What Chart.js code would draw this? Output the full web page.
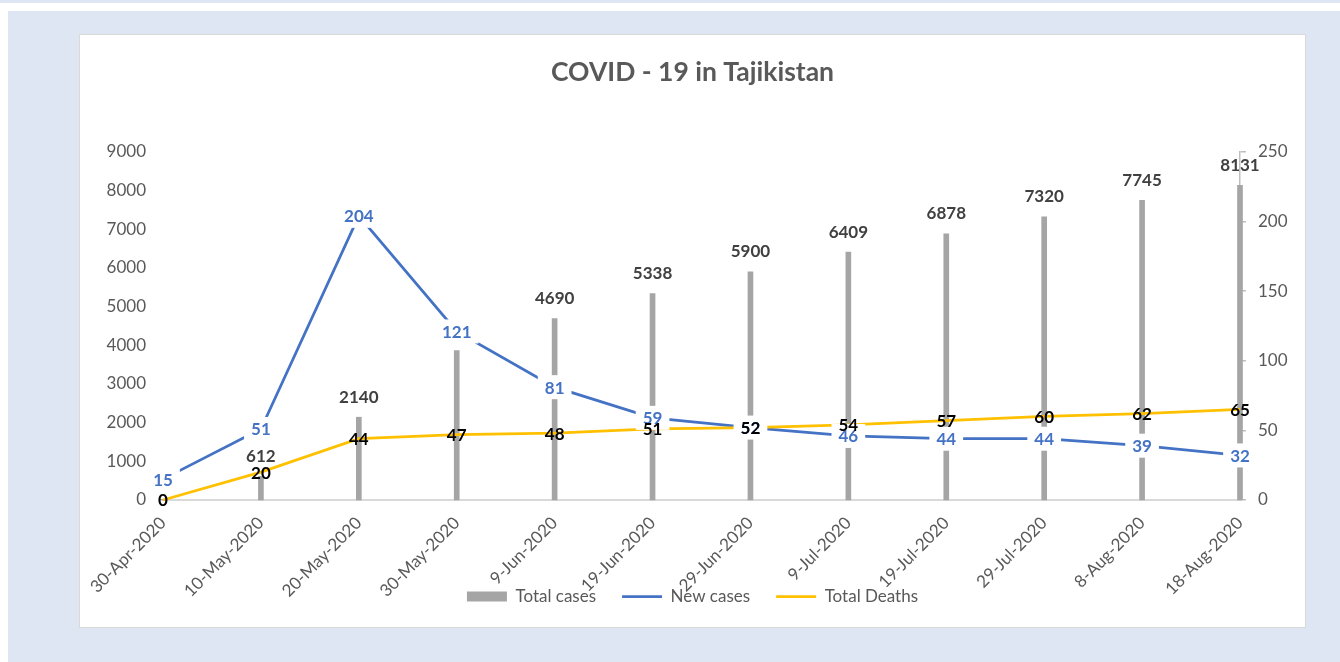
<!DOCTYPE html>
<html>
<head>
<meta charset="utf-8">
<script src="https://cdn.jsdelivr.net/npm/chart.js@4"></script>
<style>
    body { margin: 0; background: #fff; width: 1340px; height: 662px; overflow: hidden; position: relative; }
    #strip { position: absolute; left: 0; top: 0; width: 1340px; height: 3px; background: #dfe6f3; }
    #panel { position: absolute; left: 8px; top: 11px; width: 1332px; height: 651px; background: #dfe6f3; }
    #card { position: absolute; left: 79px; top: 34px; width: 1225px; height: 592px; background: #fff; border: 1px solid #d9d9d9; }
</style>
</head>
<body>
<div id="strip"></div>
<div id="panel"></div>
<div id="card"><canvas id="myChart" width="1225" height="592"></canvas></div>
<script>
const dates = ["30-Apr-2020", "10-May-2020", "20-May-2020", "30-May-2020", "9-Jun-2020", "19-Jun-2020",
    "29-Jun-2020", "9-Jul-2020", "19-Jul-2020", "29-Jul-2020", "8-Aug-2020", "18-Aug-2020"];
const totalCases = [15, 612, 2140, 3860, 4690, 5338, 5900, 6409, 6878, 7320, 7745, 8131];
const newCases = [15, 51, 204, 121, 81, 59, 52, 46, 44, 44, 39, 32];
const totalDeaths = [0, 20, 44, 47, 48, 51, 52, 54, 57, 60, 62, 65];

const FONT = "Lato, 'Open Sans', sans-serif";
const GREY = "#a5a5a5";
const BLUE = "#4472c4";
const YELLOW = "#ffc000";

// value labels, drawn like excel data labels
const valueLabels = {
    id: "valueLabels",
    afterLayout(chart) {
        // let the rotated date labels run down under the legend (no clipping)
        chart.scales.x.bottom += 60;
    },
    afterDatasetsDraw(chart) {
        const ctx = chart.ctx;
        ctx.save();
        ctx.font = "bold 17px " + FONT;
        ctx.textAlign = "center";
        ctx.textBaseline = "middle";

        // total cases, above the bars
        chart.getDatasetMeta(0).data.forEach((bar, i) => {
            ctx.fillStyle = "#404040";
            ctx.fillText(totalCases[i], bar.x, bar.y - 20);
        });

        // new cases, on the point with a white box
        chart.getDatasetMeta(1).data.forEach((pt, i) => {
            const w = ctx.measureText(newCases[i]).width + 14;
            ctx.fillStyle = "#fff";
            ctx.fillRect(pt.x - w / 2, pt.y - 12, w, 24);
            ctx.fillStyle = BLUE;
            ctx.fillText(newCases[i], pt.x, pt.y + 1);
        });

        // total deaths, on the point
        chart.getDatasetMeta(2).data.forEach((pt, i) => {
            ctx.fillStyle = "#000";
            ctx.fillText(totalDeaths[i], pt.x, pt.y + 1);
        });
        ctx.restore();
    }
};

const ctx = document.getElementById("myChart");

let myChart = new Chart(ctx, {
    data: {
        labels: dates,
        datasets: [{
            type: "bar",
            label: "Total cases",
            data: totalCases,
            backgroundColor: GREY,
            barThickness: 5,
            pointStyle: "rect",
            yAxisID: "y",
            order: 3,
            clip: false
        }, {
            type: "line",
            label: "New cases",
            data: newCases,
            borderColor: BLUE,
            backgroundColor: BLUE,
            borderWidth: 2.75,
            pointRadius: 0,
            pointStyle: "line",
            tension: 0,
            fill: false,
            yAxisID: "y1",
            order: 2,
            clip: false
        }, {
            type: "line",
            label: "Total Deaths",
            data: totalDeaths,
            borderColor: YELLOW,
            backgroundColor: YELLOW,
            borderWidth: 2.75,
            pointRadius: 0,
            pointStyle: "line",
            tension: 0,
            fill: false,
            yAxisID: "y1",
            order: 1,
            clip: false
        }]
    },
    options: {
        responsive: false,
        animation: false,
        layout: {
            padding: {left: 0, right: 0, top: 0, bottom: 12}
        },
        plugins: {
            title: {
                display: true,
                text: "COVID - 19 in Tajikistan",
                color: "#595959",
                font: {family: FONT, size: 26.5, weight: "bold"},
                padding: {top: 22, bottom: 63}
            },
            legend: {
                position: "bottom",
                labels: {
                    usePointStyle: true,
                    pointStyleWidth: 40,
                    boxHeight: 10,
                    padding: 26,
                    color: "#595959",
                    font: {family: FONT, size: 17},
                    sort: (a, b) => a.datasetIndex - b.datasetIndex
                }
            },
            tooltip: {enabled: false}
        },
        scales: {
            x: {
                offset: false,
                grid: {display: true, drawOnChartArea: false, drawTicks: false},
                border: {display: true, color: "#d9d9d9", width: 2},
                ticks: {
                    autoSkip: false,
                    minRotation: 45,
                    maxRotation: 45,
                    padding: 13,
                    color: "#595959",
                    font: {family: FONT, size: 17}
                },
                afterFit: (scale) => { scale.height = 62; }
            },
            y: {
                position: "left",
                min: 0,
                max: 9000,
                grid: {display: false, drawTicks: false},
                border: {display: false},
                ticks: {
                    stepSize: 1000,
                    padding: 17,
                    color: "#595959",
                    font: {family: FONT, size: 17},
                    callback: (v) => String(v)
                },
                afterFit: (scale) => { scale.width = 83; }
            },
            y1: {
                position: "right",
                min: 0,
                max: 250,
                grid: {display: true, drawOnChartArea: false, drawTicks: true, tickLength: 6, color: "#bfbfbf", lineWidth: 1.5},
                border: {display: true, color: "#bfbfbf", width: 1.5},
                ticks: {
                    stepSize: 50,
                    padding: 12,
                    color: "#595959",
                    font: {family: FONT, size: 17},
                    callback: (v) => String(v)
                },
                afterFit: (scale) => { scale.width = 65; }
            }
        }
    },
    plugins: [valueLabels]
});
</script>
</body>
</html>
